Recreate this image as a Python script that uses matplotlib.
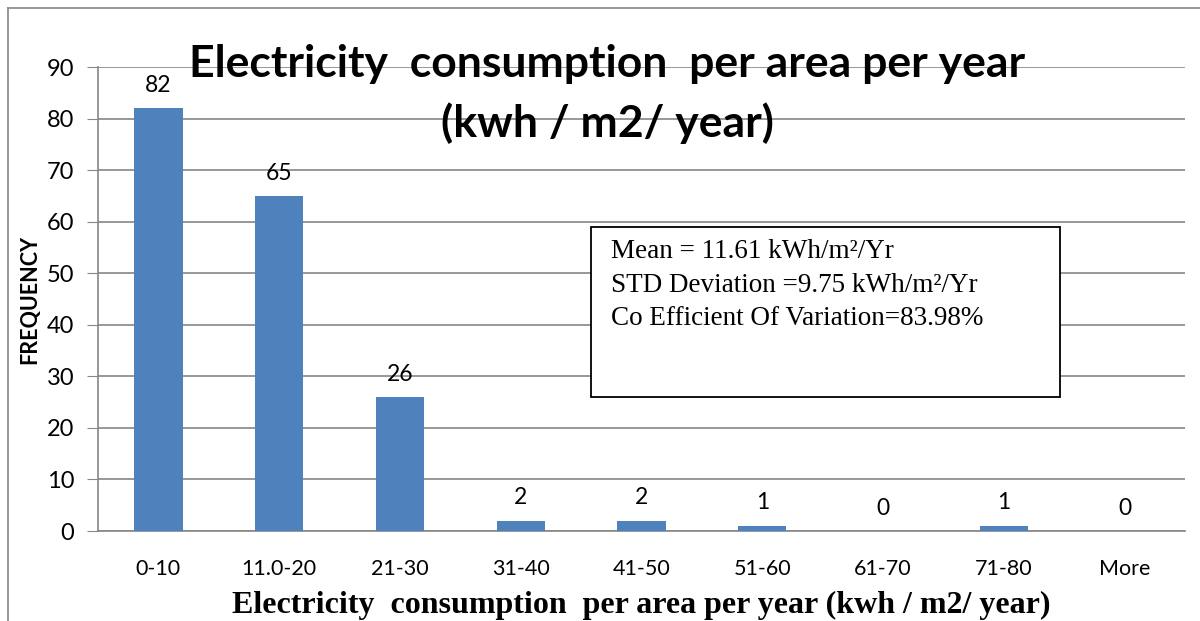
import matplotlib.pyplot as plt
from matplotlib.lines import Line2D
from matplotlib.patches import Rectangle

categories = ["0-10", "11.0-20", "21-30", "31-40", "41-50", "51-60", "61-70", "71-80", "More"]
frequency = [82, 65, 26, 2, 2, 1, 0, 1, 0]
yticks = [0, 10, 20, 30, 40, 50, 60, 70, 80, 90]

title = "Electricity  consumption  per area per year\n(kwh / m2/ year)"
xlabel = "Electricity  consumption  per area per year (kwh / m2/ year)"
stats = ["Mean = 11.61 kWh/m\u00b2/Yr",
         "STD Deviation =9.75 kWh/m\u00b2/Yr",
         "Co Efficient Of Variation=83.98%"]

fig = plt.figure(figsize=(12, 6.21), dpi=100)
ax = fig.add_axes([0.0817, 0.1449, 0.9058, 0.7472])

x = range(len(categories))
ax.bar(x, frequency, width=0.4, color="#4F81BD", zorder=3)
for xi, v in zip(x, frequency):
    ax.text(xi, v + 2.4, str(v), ha="center", va="bottom", fontsize=16.5,
            family="Lato", zorder=4)

ax.set_xlim(-0.5, len(categories) - 0.5)
ax.set_ylim(0, 90)
ax.set_yticks(yticks)
ax.set_xticks(list(x))
ax.set_xticklabels(categories, family="Lato", fontsize=15.5)
ax.set_yticklabels([str(t) for t in yticks], family="Lato", fontsize=17)
ax.tick_params(axis="y", length=8, color="#868686", pad=9)
ax.tick_params(axis="x", length=0, pad=20)
ax.grid(axis="y", color="#868686", linewidth=1.2, zorder=0)
for side in ["top", "right"]:
    ax.spines[side].set_visible(False)
ax.spines["left"].set_color("#868686")
ax.spines["bottom"].set_color("#868686")
ax.spines["left"].set_linewidth(1.2)
ax.spines["bottom"].set_linewidth(1.2)

ax.set_xlabel(xlabel, family="Liberation Serif", fontweight="bold", fontsize=23,
              labelpad=9)
fig.text(0.025, 0.517, "FREQUENCY", rotation=90, ha="center", va="center",
         family="Lato", fontweight="bold", fontsize=15.5)

fig.text(0.506, 0.849, title, ha="center", va="center", family="Lato",
         fontweight="bold", fontsize=32, linespacing=1.52, zorder=5)

# statistics box
fig.add_artist(Rectangle((0.4925, 0.3607), 0.3908, 0.2738, transform=fig.transFigure,
                         facecolor="white", edgecolor="black", linewidth=1.3,
                         zorder=6))
for i, line in enumerate(stats):
    fig.text(0.5092, 1 - (252 + 33 * i) / 621, line, ha="left", va="center",
             family="Liberation Serif", fontsize=19.5, zorder=7)

# outer chart border (partly cropped)
fig.add_artist(Line2D([0.0067, 0.0067], [0.0, 0.987], color="#868686", linewidth=1.2))
fig.add_artist(Line2D([0.0067, 1.0], [0.987, 0.987], color="#868686", linewidth=1.2))

fig.savefig("out.png", dpi=100)
